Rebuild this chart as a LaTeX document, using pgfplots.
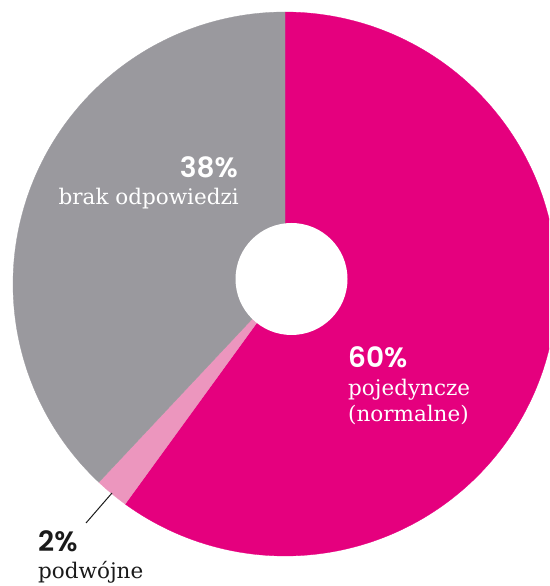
\documentclass[border=0pt]{standalone}
\usepackage{pgfplots}
\pgfplotsset{compat=1.18}
\usepackage{fontspec}
\setmainfont{DejaVu Serif}
\newfontfamily\pop{Poppins SemiBold}
\definecolor{mag}{RGB}{229,0,126}
\definecolor{lpink}{RGB}{236,150,190}
\definecolor{cgray}{RGB}{154,153,158}
\definecolor{txt}{RGB}{26,26,26}
\begin{document}
\begin{tikzpicture}
\def\cx{285}\def\cy{302}\def\R{272}
% shares in percent
\def\vA{60}\def\vB{2}\def\vC{38}
\pgfmathsetmacro{\aA}{90}
\pgfmathsetmacro{\aB}{90-3.6*\vA}
\pgfmathsetmacro{\aC}{\aB-3.6*\vB}
\pgfmathsetmacro{\aD}{\aC-3.6*\vC}
\begin{axis}[scale only axis, width=549pt, height=586pt,
  xmin=0, xmax=549, ymin=0, ymax=586, hide axis, clip=true]
\addplot[draw=mag, line width=0.3pt, fill=mag, domain=\aB:\aA, samples=150]
  ({\cx+\R*cos(x)},{\cy+\R*sin(x)}) -- (axis cs:\cx,\cy) -- cycle;
\addplot[draw=lpink, line width=0.3pt, fill=lpink, domain=\aC:\aB, samples=10]
  ({\cx+\R*cos(x)},{\cy+\R*sin(x)}) -- (axis cs:\cx,\cy) -- cycle;
\addplot[draw=cgray, line width=0.3pt, fill=cgray, domain=\aD:\aC, samples=120]
  ({\cx+\R*cos(x)},{\cy+\R*sin(x)}) -- (axis cs:\cx,\cy) -- cycle;
\fill[white] (axis cs:291.5,307) circle[radius=56];
\draw[txt, line width=1pt] (axis cs:112,93) -- (axis cs:86,63);
\node[anchor=base east, white, font=\pop\fontsize{28}{32}\selectfont, inner sep=0pt] at (axis cs:238,408) {38\%};
\node[anchor=base east, white, font=\fontsize{21.5}{24}\selectfont, inner sep=0pt] at (axis cs:239,381) {brak odpowiedzi};
\node[anchor=base west, white, font=\pop\fontsize{28}{32}\selectfont, inner sep=0pt] at (axis cs:348,218) {60\%};
\node[anchor=base west, white, font=\fontsize{21.5}{24}\selectfont, inner sep=0pt] at (axis cs:348,190) {pojedyncze};
\node[anchor=base west, white, font=\fontsize{21.5}{24}\selectfont, inner sep=0pt] at (axis cs:348,164) {(normalne)};
\node[anchor=base west, txt, font=\pop\fontsize{28}{32}\selectfont, inner sep=0pt] at (axis cs:38,34) {2\%};
\node[anchor=base west, txt, font=\fontsize{21.5}{24}\selectfont, inner sep=0pt] at (axis cs:38,7.5) {podwójne};
\end{axis}
\pgfresetboundingbox
\path (current axis.south west) rectangle (current axis.north east);
\end{tikzpicture}
\end{document}
